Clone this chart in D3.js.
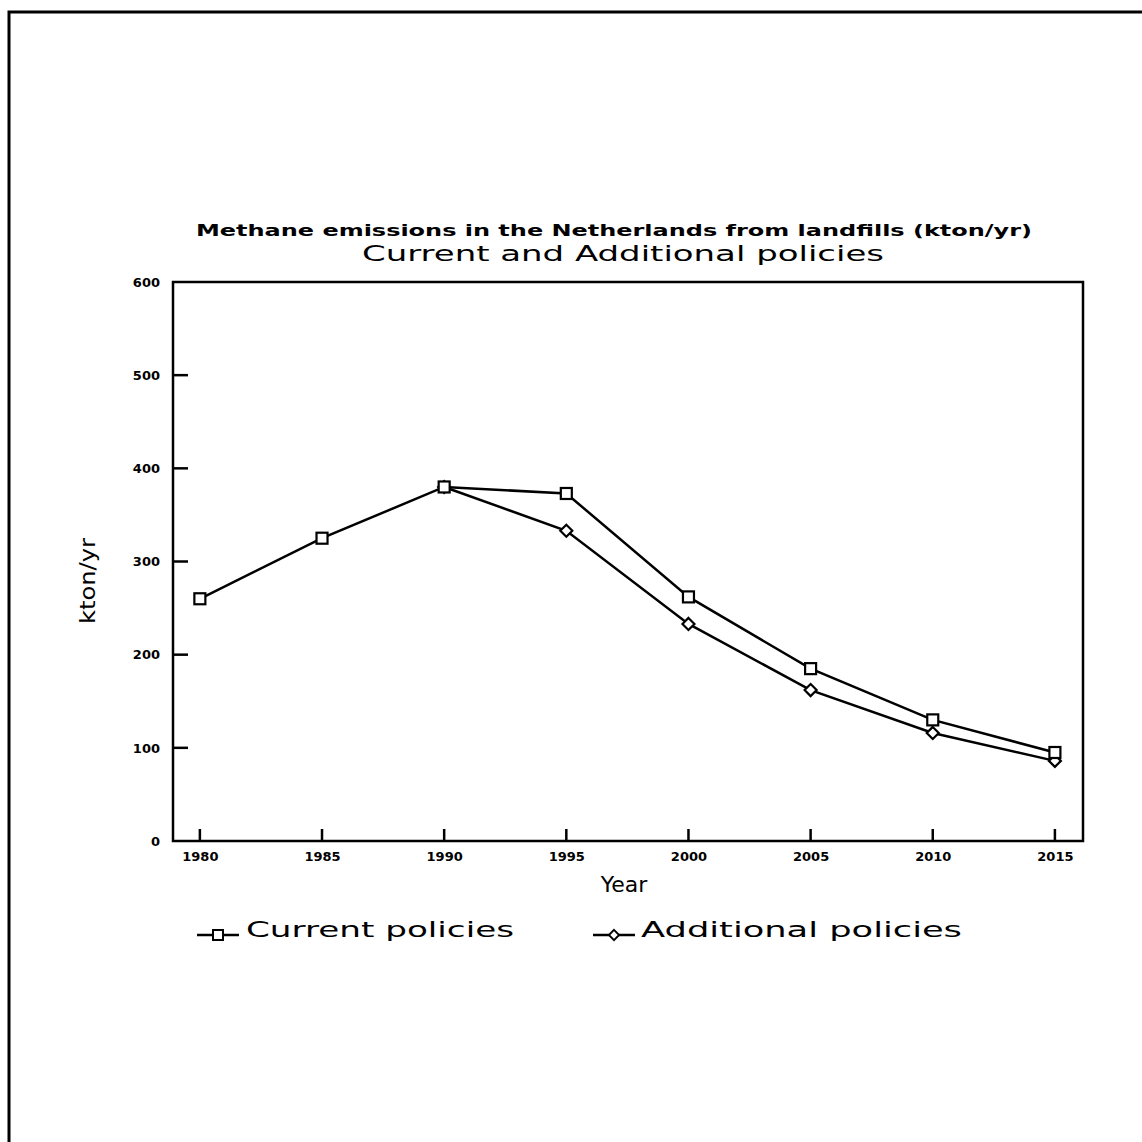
<!DOCTYPE html>
<html>
<head>
<meta charset="utf-8">
<script src="https://cdn.jsdelivr.net/npm/d3@7"></script>
<style>
  body { margin: 0; background: #fff; }
  svg { display: block; }
  .tick text { font-family: "DejaVu Sans", sans-serif; font-weight: bold; font-size: 13px; fill: #000; }
</style>
</head>
<body>
<div id="vis"></div>
<script>
// chart values
const YEARS = [1980, 1985, 1990, 1995, 2000, 2005, 2010, 2015];
const CURRENT = [260, 325, 380, 373, 262, 185, 130, 95];
const ADD_YEARS = [1990, 1995, 2000, 2005, 2010, 2015];
const ADDITIONAL = [380, 333, 233, 162, 116, 86];
const Y_TICKS = [0, 100, 200, 300, 400, 500, 600];
const TITLE = ["Methane emissions in the Netherlands from landfills (kton/yr)",
               "Current and Additional policies"];
const LEGEND = ["Current policies", "Additional policies"];

const FRAME = 1142;
const MARGINS = {left: 173, right: 59, top: 282, bottom: 301};
const VIS_WIDTH = FRAME - MARGINS.left - MARGINS.right;
const VIS_HEIGHT = FRAME - MARGINS.top - MARGINS.bottom;

const SVG = d3.select("#vis")
  .append("svg")
    .attr("width", FRAME)
    .attr("height", FRAME);

SVG.append("rect").attr("width", FRAME).attr("height", FRAME).attr("fill", "#fff");

// page frame (scan shows only top and left edges)
SVG.append("path")
  .attr("d", "M9,1142 L9,12 L1142,12")
  .attr("fill", "none").attr("stroke", "#000").attr("stroke-width", 3);

const X_SCALE = d3.scaleLinear()
  .domain([1978.9, 2016.15])
  .range([0, VIS_WIDTH]);
const Y_SCALE = d3.scaleLinear()
  .domain([0, 600])
  .range([VIS_HEIGHT, 0]);

const G = SVG.append("g")
  .attr("transform", "translate(" + MARGINS.left + "," + MARGINS.top + ")");

// plot box
G.append("rect")
  .attr("width", VIS_WIDTH).attr("height", VIS_HEIGHT)
  .attr("fill", "none").attr("stroke", "#000").attr("stroke-width", 2.5);

// axis labels from d3 axes
const xAxis = G.append("g")
  .attr("transform", "translate(0," + VIS_HEIGHT + ")")
  .call(d3.axisBottom(X_SCALE).tickValues(YEARS).tickFormat(d3.format("d"))
        .tickSize(0).tickPadding(11));
const yAxis = G.append("g")
  .call(d3.axisLeft(Y_SCALE).tickValues(Y_TICKS).tickSize(0).tickPadding(13));
[xAxis, yAxis].forEach(a => {
  a.select(".domain").remove();
  a.selectAll(".tick line").remove();
});

// inward tick marks
G.selectAll(".xtick").data(YEARS).enter().append("line")
  .attr("class", "xtick")
  .attr("x1", d => X_SCALE(d)).attr("x2", d => X_SCALE(d))
  .attr("y1", VIS_HEIGHT).attr("y2", VIS_HEIGHT - 12)
  .attr("stroke", "#000").attr("stroke-width", 2.5);
G.selectAll(".ytick").data(Y_TICKS.filter(d => d > 0 && d < 600)).enter().append("line")
  .attr("class", "ytick")
  .attr("x1", 0).attr("x2", 15)
  .attr("y1", d => Y_SCALE(d)).attr("y2", d => Y_SCALE(d))
  .attr("stroke", "#000").attr("stroke-width", 2.5);

// lines
const line = d3.line().x(d => X_SCALE(d[0])).y(d => Y_SCALE(d[1]));
const curData = YEARS.map((y, i) => [y, CURRENT[i]]);
const addData = ADD_YEARS.map((y, i) => [y, ADDITIONAL[i]]);

G.append("path").datum(addData).attr("d", line)
  .attr("fill", "none").attr("stroke", "#000").attr("stroke-width", 2.5);
G.append("path").datum(curData).attr("d", line)
  .attr("fill", "none").attr("stroke", "#000").attr("stroke-width", 2.5);

// markers
const diamond = "M0,-6 L6,0 L0,6 L-6,0 Z";
G.selectAll(".dia").data(addData).enter().append("path")
  .attr("class", "dia")
  .attr("transform", d => "translate(" + X_SCALE(d[0]) + "," + Y_SCALE(d[1]) + ")")
  .attr("d", diamond)
  .attr("fill", "#fff").attr("stroke", "#000").attr("stroke-width", 2.2);
G.selectAll(".sq").data(curData).enter().append("rect")
  .attr("class", "sq")
  .attr("x", d => X_SCALE(d[0]) - 5.5).attr("y", d => Y_SCALE(d[1]) - 5.5)
  .attr("width", 11).attr("height", 11)
  .attr("fill", "#fff").attr("stroke", "#000").attr("stroke-width", 2.2);

// titles
SVG.append("text").attr("x", 614).attr("y", 236)
  .attr("text-anchor", "middle")
  .attr("font-family", "DejaVu Sans, sans-serif").attr("font-weight", "bold")
  .attr("font-size", 16).attr("textLength", 836).attr("lengthAdjust", "spacingAndGlyphs")
  .text(TITLE[0]);
SVG.append("text").attr("x", 623).attr("y", 261)
  .attr("text-anchor", "middle")
  .attr("font-family", "DejaVu Sans, sans-serif")
  .attr("font-size", 21).attr("textLength", 522).attr("lengthAdjust", "spacingAndGlyphs")
  .text(TITLE[1]);

// axis titles
SVG.append("text").attr("x", 624).attr("y", 892)
  .attr("text-anchor", "middle")
  .attr("font-family", "DejaVu Sans, sans-serif").attr("font-size", 22)
  .text("Year");
SVG.append("text")
  .attr("transform", "translate(95,581) rotate(-90)")
  .attr("text-anchor", "middle")
  .attr("font-family", "DejaVu Sans, sans-serif").attr("font-size", 22)
  .attr("textLength", 86).attr("lengthAdjust", "spacingAndGlyphs")
  .text("kton/yr");

// legend
const LEG = [
  {x: 197, textX: 246, w: 268, shape: "sq"},
  {x: 593, textX: 641, w: 321, shape: "dia"}
];
LEG.forEach((l, i) => {
  const cy = 935;
  SVG.append("line").attr("x1", l.x).attr("x2", l.x + 42)
    .attr("y1", cy).attr("y2", cy)
    .attr("stroke", "#000").attr("stroke-width", 2.5);
  const mx = l.x + 21;
  if (l.shape === "sq") {
    SVG.append("rect").attr("x", mx - 5).attr("y", cy - 5)
      .attr("width", 10).attr("height", 10)
      .attr("fill", "#fff").attr("stroke", "#000").attr("stroke-width", 2);
  } else {
    SVG.append("path").attr("transform", "translate(" + mx + "," + cy + ") scale(0.85)")
      .attr("d", diamond)
      .attr("fill", "#fff").attr("stroke", "#000").attr("stroke-width", 2.2);
  }
  SVG.append("text").attr("x", l.textX).attr("y", 937)
    .attr("font-family", "DejaVu Sans, sans-serif").attr("font-size", 22)
    .attr("textLength", l.w).attr("lengthAdjust", "spacingAndGlyphs")
    .text(LEGEND[i]);
});
</script>
</body>
</html>
